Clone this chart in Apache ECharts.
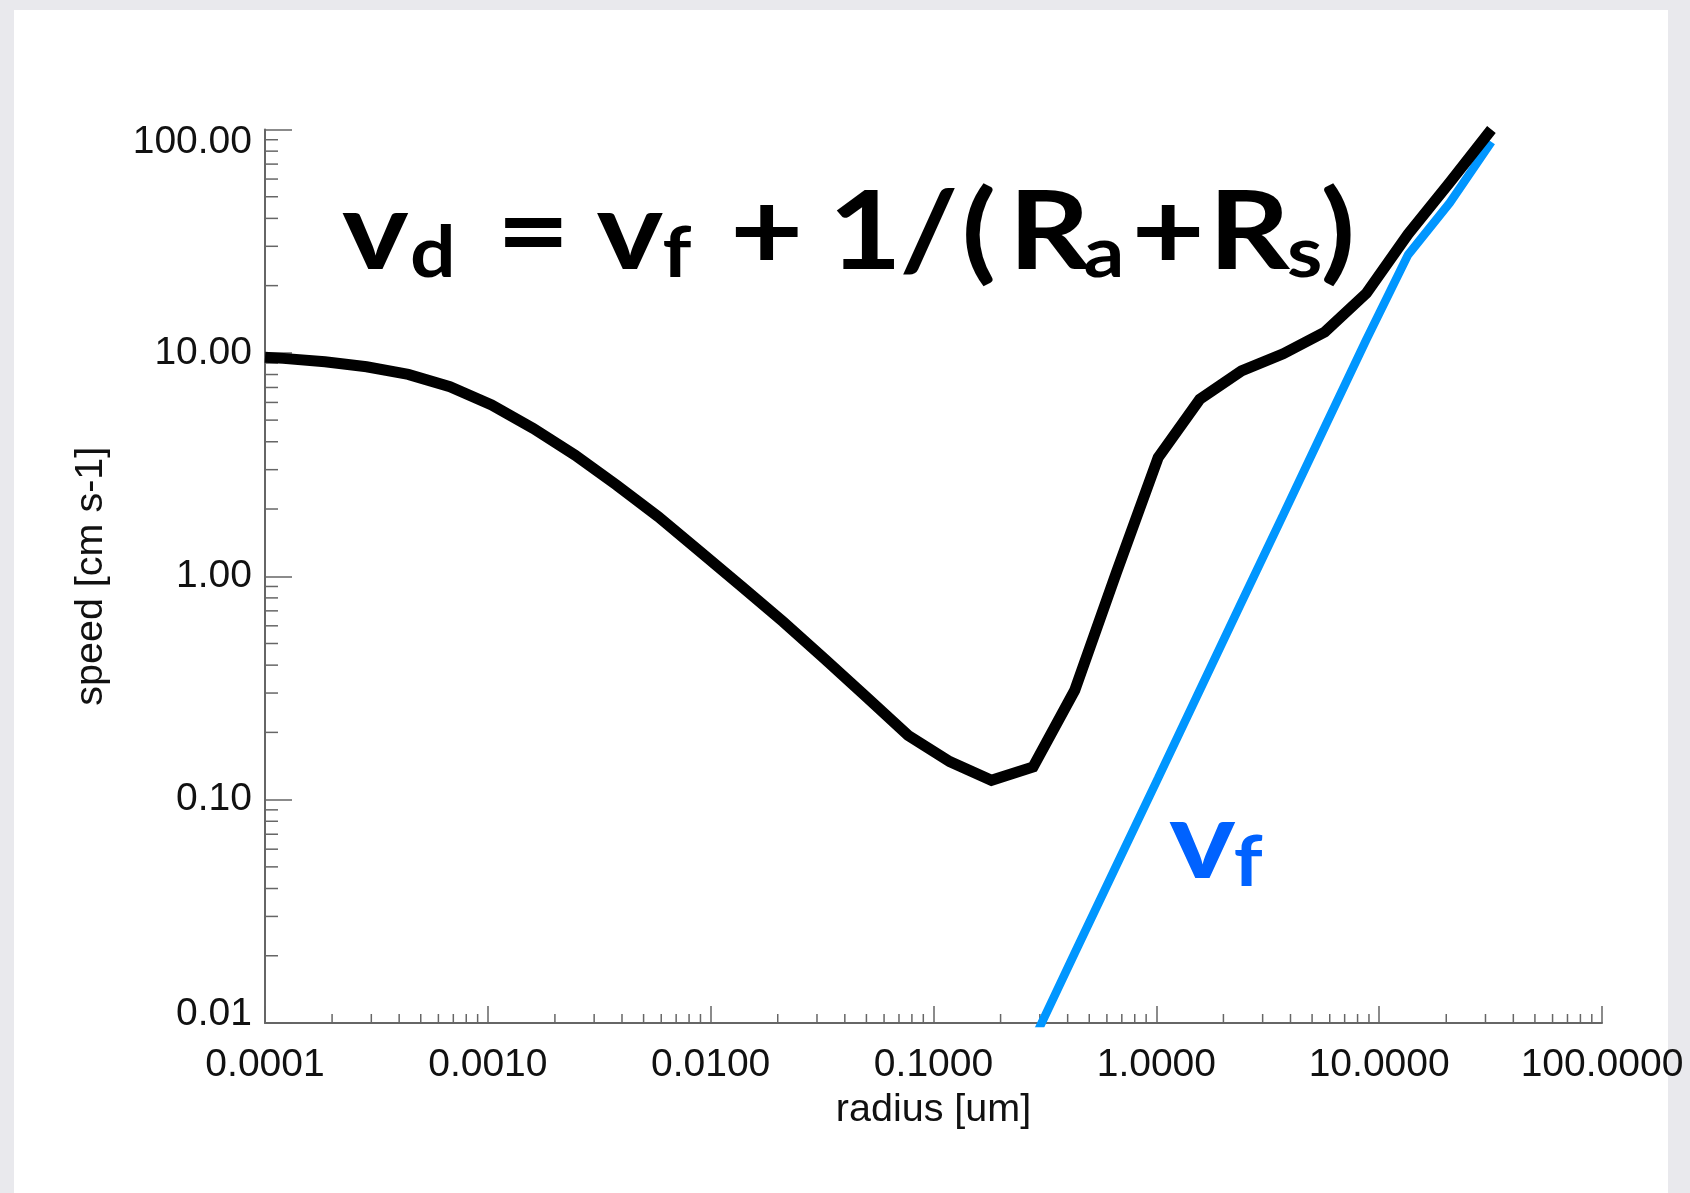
<!DOCTYPE html>
<html><head><meta charset="utf-8">
<script src="https://cdn.jsdelivr.net/npm/echarts@6/dist/echarts.min.js"></script>
<style>
html,body{margin:0;padding:0;background:#e9e9ed;overflow:hidden}
#panel{position:absolute;left:14px;top:10px;width:1654px;height:1183px;background:#fff}
#chart{position:absolute;left:0;top:0;width:1690px;height:1193px}
</style></head><body>
<div id="panel"></div><div id="chart"></div>
<script>
// radius [um]
const radius = [1.0e-4, 1.208e-4, 1.858e-4, 2.857e-4, 4.394e-4, 6.76e-4, 1.04e-3, 1.599e-3, 2.46e-3, 3.784e-3,
  5.81e-3, 8.95e-3, 1.377e-2, 2.118e-2, 3.25e-2, 5.0e-2, 7.69e-2, 0.1183, 0.182, 0.2799,
  0.4306, 0.6623, 1.019, 1.567, 2.41, 3.707, 5.70, 8.77, 13.49, 20.75, 31.9];
// deposition speed vd [cm s-1]
const vdSpeed = [9.55, 9.45, 9.12, 8.67, 8.01, 7.05, 5.84, 4.59, 3.49, 2.56,
  1.85, 1.29, 0.90, 0.625, 0.426, 0.288, 0.194, 0.148, 0.122, 0.140,
  0.309, 1.04, 3.4, 6.2, 8.3, 9.9, 12.4, 18.5, 34, 58, 100];
// fall speed vf [cm s-1]
const vfSpeed = [null, null, null, null, null, null, null, null, null, null,
  null, null, null, null, null, null, null, null, null, 0.0083,
  0.0206, 0.0508, 0.125, 0.309, 0.764, 1.88, 4.65, 11.5, 27.5, 47, 88];
const xTickLabels = ['0.0001', '0.0010', '0.0100', '0.1000', '1.0000', '10.0000', '100.0000'];
const yTickLabels = ['0.01', '0.10', '1.00', '10.00', '100.00'];
const minorMantissas = [2, 3, 4, 5, 6, 7, 8, 9];
const xDecades = [1e-4, 1e-3, 1e-2, 1e-1, 1, 10];
const yDecades = [0.01, 0.1, 1, 10];
const X_MIN = 1e-4, X_MAX = 100, Y_MIN = 0.01, Y_MAX = 100;

// formula annotation: [text, main/sub, token box width in px on the page]
const formulaTokens = [['v','m',68],['d','s',86.4],['=','m',100],['v','m',66],['f','s',67.5],['+','m',98.5],
  ['1','m',71],['/','m',62],['(','m',47],['R','m',75],['a','s',48],['+','m',77],['R','m',78.5],['s','s',33.5],[')','m',40]];
const vfTokens = [['v','m',64.7],['f','s',40]];
const TEXT_SCALE_X = 1.15;

const xMinor = [], yMinor = [];
xDecades.forEach(d => minorMantissas.forEach(m => xMinor.push([m * d, Y_MIN])));
yDecades.forEach(d => minorMantissas.forEach(m => yMinor.push([X_MIN, m * d])));

const axisGrey = '#666';
const FONT = 'Liberation Sans, Arial, sans-serif';
const labelFont = {fontSize: 39, color: '#111', fontFamily: FONT};
const nameFont = {fontSize: 39.5, color: '#111', fontFamily: FONT};

function buildRich(tokens, color) {
  const rich = {};
  let text = '';
  tokens.forEach((t, i) => {
    const isMain = t[1] === 'm';
    rich['t' + i] = {
      fontSize: isMain ? 110 : 70, fontWeight: 'bold', fontFamily: 'Lato, sans-serif',
      lineHeight: isMain ? 120 : 76, verticalAlign: 'bottom', width: t[2] / TEXT_SCALE_X, align: 'left', fill: color
    };
    text += '{t' + i + '|' + t[0] + '}';
  });
  return {text, rich};
}
const formula = buildRich(formulaTokens, '#000');
const vfLabel = buildRich(vfTokens, '#0062ff');

const yRich = {
  top: {fontSize: 39, color: '#111', fontFamily: FONT, padding: [25, 0, 0, 0]},
  bot: {fontSize: 39, color: '#111', fontFamily: FONT, padding: [0, 0, 18, 0]}
};

const chart = echarts.init(document.getElementById('chart'), null, {renderer: 'canvas'});
chart.setOption({
  animation: false,
  backgroundColor: 'transparent',
  grid: {left: 265, right: 88, top: 129.5, bottom: 170, containLabel: false},
  xAxis: {
    type: 'log', min: X_MIN, max: X_MAX, logBase: 10, splitNumber: 6,
    name: 'radius [um]', nameLocation: 'middle', nameGap: 65,
    nameTextStyle: Object.assign({}, nameFont),
    axisLine: {lineStyle: {color: axisGrey, width: 2}},
    axisTick: {inside: true, length: 17, lineStyle: {color: axisGrey, width: 1.5}},
    axisLabel: Object.assign({margin: 23, formatter: v => xTickLabels[Math.round(Math.log10(v)) + 4]}, labelFont),
    splitLine: {show: false}, minorTick: {show: false}
  },
  yAxis: {
    type: 'log', min: Y_MIN, max: Y_MAX, logBase: 10, splitNumber: 4,
    name: 'speed [cm s-1]', nameLocation: 'middle', nameGap: 154, nameRotate: 90,
    nameTextStyle: Object.assign({}, nameFont),
    axisLine: {lineStyle: {color: axisGrey, width: 2}},
    axisTick: {inside: true, length: 27, lineStyle: {color: axisGrey, width: 1.5}},
    axisLabel: Object.assign({
      margin: 13, rich: yRich,
      formatter: v => {
        const k = Math.round(Math.log10(v)) + 2;
        const s = yTickLabels[k];
        if (k === yTickLabels.length - 1) return '{top|' + s + '}';
        if (k === 0) return '{bot|' + s + '}';
        return s;
      }
    }, labelFont),
    splitLine: {show: false}, minorTick: {show: false}
  },
  series: [
    {
      type: 'custom', silent: true, data: xMinor, z: 1,
      renderItem: (params, api) => {
        const p = api.coord([api.value(0), api.value(1)]);
        return {type: 'line', shape: {x1: p[0], y1: p[1], x2: p[0], y2: p[1] - 9},
          style: {stroke: axisGrey, lineWidth: 1.5}};
      }
    },
    {
      type: 'custom', silent: true, data: yMinor, z: 1,
      renderItem: (params, api) => {
        const p = api.coord([api.value(0), api.value(1)]);
        return {type: 'line', shape: {x1: p[0], y1: p[1], x2: p[0] + 13, y2: p[1]},
          style: {stroke: axisGrey, lineWidth: 1.5}};
      }
    },
    {
      name: 'vf', type: 'line', data: radius.map((r, i) => [r, vfSpeed[i]]),
      showSymbol: false, connectNulls: false, clip: true, z: 3,
      lineStyle: {color: '#0096ff', width: 8.5}
    },
    {
      name: 'vd', type: 'line', data: radius.map((r, i) => [r, vdSpeed[i]]),
      showSymbol: false, clip: true, z: 4,
      lineStyle: {color: '#000', width: 11, join: 'miter'}
    }
  ],
  graphic: [
    {type: 'text', x: 342, y: 169, scaleX: TEXT_SCALE_X, z: 10,
      style: {text: formula.text, rich: formula.rich, fill: '#000', align: 'left', verticalAlign: 'top'}},
    {type: 'text', x: 1169, y: 778, scaleX: TEXT_SCALE_X, z: 10,
      style: {text: vfLabel.text, rich: vfLabel.rich, fill: '#0062ff', align: 'left', verticalAlign: 'top'}}
  ]
});
</script>
</body></html>
